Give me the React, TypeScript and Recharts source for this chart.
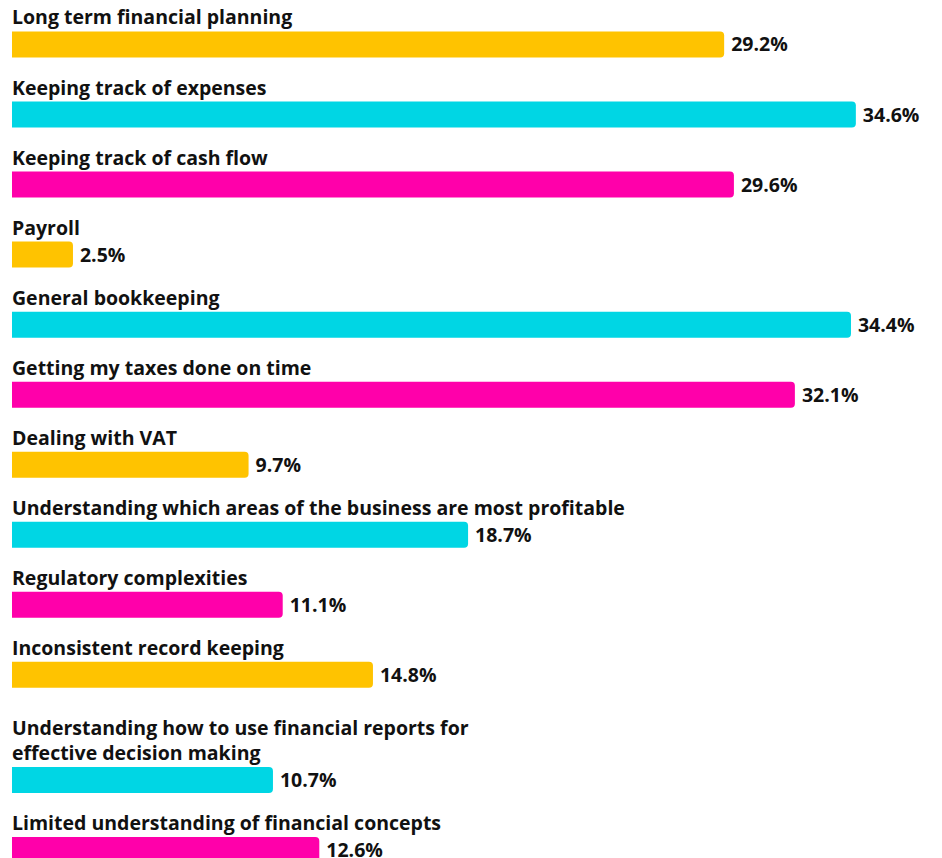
import { BarChart, Bar, XAxis, YAxis, Cell, LabelList } from "recharts"

const categories = [
  "Long term financial planning",
  "Keeping track of expenses",
  "Keeping track of cash flow",
  "Payroll",
  "General bookkeeping",
  "Getting my taxes done on time",
  "Dealing with VAT",
  "Understanding which areas of the business are most profitable",
  "Regulatory complexities",
  "Inconsistent record keeping",
  "Understanding how to use financial reports for\neffective decision making",
  "Limited understanding of financial concepts",
]

const values = [29.2, 34.6, 29.6, 2.5, 34.4, 32.1, 9.7, 18.7, 11.1, 14.8, 10.7, 12.6]

const palette = ["#FFC300", "#00D6E4", "#FF00AA"]

const FONT = "'Open Sans', Lato, sans-serif"
const LINE_H = 25

// rows with a two-line label get half a row of extra room above them
let acc = 0
const data = categories.map((name, i) => {
  const lines = name.split("\n").length
  if (i > 0) acc += 1 + (lines - 1) * 0.5
  return { name, value: values[i], slot: acc }
})
const maxSlot = acc

const NameLabel = (props: any) => {
  const { x, y, value } = props
  const lines = String(value).split("\n")
  const top = y - 7 - (lines.length - 1) * LINE_H
  return (
    <text x={x} y={top} fill="#111" fontFamily={FONT} fontWeight={700} fontSize={19.5}>
      {lines.map((l, i) => (
        <tspan key={i} x={x} dy={i === 0 ? 0 : LINE_H}>
          {l}
        </tspan>
      ))}
    </text>
  )
}

const ValueLabel = (props: any) => {
  const { x, y, width, height, value } = props
  return (
    <text
      x={x + width + 7}
      y={y + height / 2 + 7}
      fill="#111"
      fontFamily={FONT}
      fontWeight={700}
      fontSize={19.5}
    >
      {`${Number(value).toFixed(1)}%`}
    </text>
  )
}

export default function App() {
  return (
    <BarChart
      width={934}
      height={850}
      data={data}
      layout="vertical"
      margin={{ top: 36.5, right: 52, bottom: 8, left: 4 }}
    >
      <XAxis type="number" domain={[0, 36]} hide />
      <YAxis type="number" dataKey="slot" domain={[0, maxSlot]} hide />
      <Bar dataKey="value" barSize={26} radius={[0, 4, 4, 0]} isAnimationActive={false}>
        {data.map((_, i) => (
          <Cell key={i} fill={palette[i % 3]} />
        ))}
        <LabelList dataKey="name" content={<NameLabel />} />
        <LabelList dataKey="value" content={<ValueLabel />} />
      </Bar>
    </BarChart>
  )
}
